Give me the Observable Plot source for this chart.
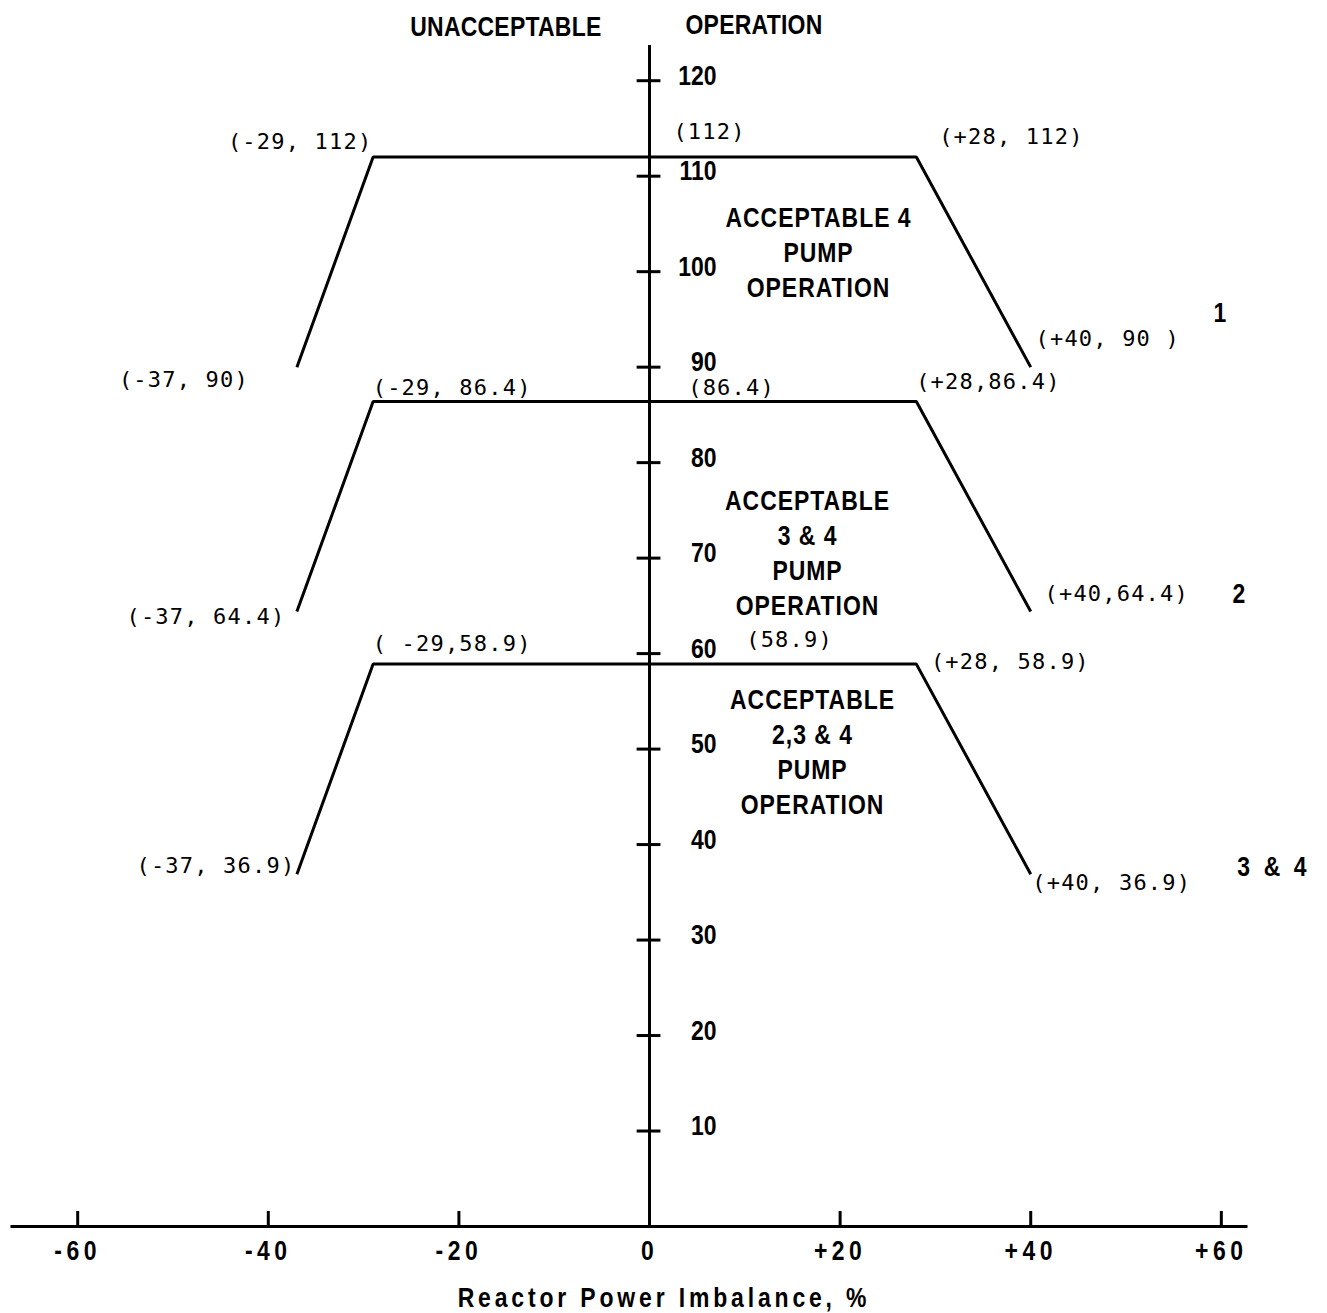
<!DOCTYPE html>
<html>
<head>
<meta charset="utf-8">
<script src="https://cdn.jsdelivr.net/npm/d3@7"></script>
<script src="https://cdn.jsdelivr.net/npm/@observablehq/plot@0.6"></script>
<style>
  html, body { margin: 0; padding: 0; background: #fff; }
  #chart svg { display: block; background: #fff; }
  [aria-label="x-axis tick label"], [aria-label="x-axis label"] {
    font-family: "Liberation Sans", Arial, sans-serif;
    font-weight: bold;
  }
  [aria-label="x-axis tick label"] text { letter-spacing: 5.5px; }
  [aria-label="x-axis label"] text { letter-spacing: 4.7px; }
  text[aria-label="corner label"], text[aria-label="plateau label"] { letter-spacing: 1.2px; }
  text[aria-label="region label"] { letter-spacing: 1.2px; }
  text[aria-label="curve name"] { letter-spacing: 4.4px; }
  text[aria-label="top title"] { letter-spacing: 0.3px; }
</style>
</head>
<body>
<div id="chart"></div>
<script>
// ---------- data ----------
const imbalance = [-37, -29, 28, 40];
const curveNames = ["1", "2", "3 & 4"];
const power4Pump = [90, 112, 112, 90];
const power34Pump = [64.4, 86.4, 86.4, 64.4];
const power234Pump = [36.9, 58.9, 58.9, 36.9];
const cornerText4Pump = ["(-37, 90)", "(-29, 112)", "(+28, 112)", "(+40, 90 )"];
const cornerText34Pump = ["(-37, 64.4)", "(-29, 86.4)", "(+28,86.4)", "(+40,64.4)"];
const cornerText234Pump = ["(-37, 36.9)", "( -29,58.9)", "(+28, 58.9)", "(+40, 36.9)"];
const plateauText = ["(112)", "(86.4)", "(58.9)"];
const regionText = [
  "ACCEPTABLE 4\nPUMP\nOPERATION",
  "ACCEPTABLE\n3 & 4\nPUMP\nOPERATION",
  "ACCEPTABLE\n2,3 & 4\nPUMP\nOPERATION"
];
const topText = ["UNACCEPTABLE", "OPERATION"];
const xTicks = [-60, -40, -20, 0, 20, 40, 60];
const yTicks = [10, 20, 30, 40, 50, 60, 70, 80, 90, 100, 110, 120];
const xLabel = "Reactor Power Imbalance, %";

// ---------- layout (pixel offsets / extents) ----------
const cornerOffsets = [
  [[-113, 13], [-73, -15], [95, -20], [77, -28]],
  [[-91, 5], [79, -14], [72, -20], [86, -18]],
  [[-81, -8], [79, -20], [94, -2], [81, 9]]
];
const plateauOffsets = [[60, -25], [82, -14], [140, -24]];
const nameOffsets = [[191, -54], [210, -18], [243, -7]];
const regionOffsets = [[169, 94], [158, 150], [163, 86]];

const powers = [power4Pump, power34Pump, power234Pump];
const cornerTexts = [cornerText4Pump, cornerText34Pump, cornerText234Pump];

const curves = [];
powers.forEach((p, c) => imbalance.forEach((x, i) => curves.push({curve: curveNames[c], x, y: p[i]})));

const boldFont = "Liberation Sans, Arial, sans-serif";
const monoFont = "DejaVu Sans Mono, Liberation Mono, monospace";
const bigSize = 28;
const tag = name => () => name;   // per-element aria-label used as a style hook

const marks = [];

// axis lines and ticks
marks.push(Plot.ruleY([0], {x1: -67, x2: 62.8, stroke: "black", strokeWidth: 3}));
marks.push(Plot.ruleX([0], {y1: 0, y2: 123.7, stroke: "black", strokeWidth: 3}));
marks.push(Plot.ruleX(xTicks.filter(d => d !== 0), {x: d => d, y1: 0, y2: 1.57, stroke: "black", strokeWidth: 3}));
marks.push(Plot.ruleY(yTicks, {y: d => d, x1: -1.3, x2: 1.2, stroke: "black", strokeWidth: 3}));
marks.push(Plot.text(yTicks, {
  x: 0, y: d => d, text: d => String(d), dx: 67, dy: -5, textAnchor: "end",
  fontSize: bigSize, fontWeight: "bold", fontFamily: boldFont, fill: "black", ariaLabel: tag("y tick label")
}));
marks.push(Plot.axisX({
  ticks: xTicks, tickSize: 0, tickPadding: 14,
  tickFormat: d => d > 0 ? `+${d}` : `${d}`,
  label: xLabel, labelAnchor: "center", labelOffset: 80, labelArrow: "none",
  fontSize: bigSize, fill: "black", color: "black"
}));

// limit curves
marks.push(Plot.line(curves, {x: "x", y: "y", z: "curve", stroke: "black", strokeWidth: 3, strokeLinejoin: "miter", strokeLinecap: "butt"}));

powers.forEach((p, c) => {
  imbalance.forEach((x, i) => {
    const [dx, dy] = cornerOffsets[c][i];
    marks.push(Plot.text([cornerTexts[c][i]], {
      x: () => x, y: () => p[i], text: d => d, dx, dy, textAnchor: "middle",
      fontSize: 22, fontFamily: monoFont, fill: "black", ariaLabel: tag("corner label")
    }));
  });
  marks.push(Plot.text([plateauText[c]], {
    x: () => 0, y: () => p[1], text: d => d, dx: plateauOffsets[c][0], dy: plateauOffsets[c][1],
    textAnchor: "middle", fontSize: 22, fontFamily: monoFont, fill: "black", ariaLabel: tag("plateau label")
  }));
  marks.push(Plot.text([curveNames[c]], {
    x: () => imbalance[3], y: () => p[3], text: d => d, dx: nameOffsets[c][0], dy: nameOffsets[c][1],
    textAnchor: "middle", fontSize: bigSize, fontWeight: "bold", fontFamily: boldFont, fill: "black", ariaLabel: tag("curve name")
  }));
  marks.push(Plot.text([regionText[c]], {
    x: () => 0, y: () => p[1], text: d => d, dx: regionOffsets[c][0], dy: regionOffsets[c][1],
    textAnchor: "middle", lineAnchor: "middle", lineHeight: 1.25,
    fontSize: bigSize, fontWeight: "bold", fontFamily: boldFont, fill: "black", ariaLabel: tag("region label")
  }));
});

marks.push(Plot.text([topText[0]], {x: () => 0, frameAnchor: "top", lineAnchor: "middle", text: d => d, dx: -48, dy: 27, textAnchor: "end",
  fontSize: bigSize, fontWeight: "bold", fontFamily: boldFont, fill: "black", ariaLabel: tag("top title")}));
marks.push(Plot.text([topText[1]], {x: () => 0, frameAnchor: "top", lineAnchor: "middle", text: d => d, dx: 36, dy: 25, textAnchor: "start",
  fontSize: bigSize, fontWeight: "bold", fontFamily: boldFont, fill: "black", ariaLabel: tag("top title")}));

const chart = Plot.plot({
  width: 1327,
  height: 1313,
  marginLeft: 0,
  marginRight: 0,
  marginTop: 0,
  marginBottom: 87,
  x: {domain: [-68.1, 71.14]},
  y: {domain: [0, 128.4], axis: null},
  style: {background: "white", color: "black", overflow: "visible"},
  marks
});
document.getElementById("chart").appendChild(chart);

// condensed look: narrow the bold labels horizontally around their anchor point
const condensed = ["y tick label", "x-axis tick label", "x-axis label", "region label", "curve name", "top title"];
const sel = condensed.map(l => `[aria-label="${l}"] text, text[aria-label="${l}"]`).join(", ");
d3.select(chart).selectAll(sel).each(function() {
  const t = this.getAttribute("transform");
  if (t) {
    this.setAttribute("transform", t + " scale(0.82,1)");
  } else {
    const x = +this.getAttribute("x") || 0, y = +this.getAttribute("y") || 0;
    this.removeAttribute("x"); this.removeAttribute("y");
    this.setAttribute("transform", `translate(${x},${y}) scale(0.82,1)`);
  }
});
</script>
</body>
</html>
